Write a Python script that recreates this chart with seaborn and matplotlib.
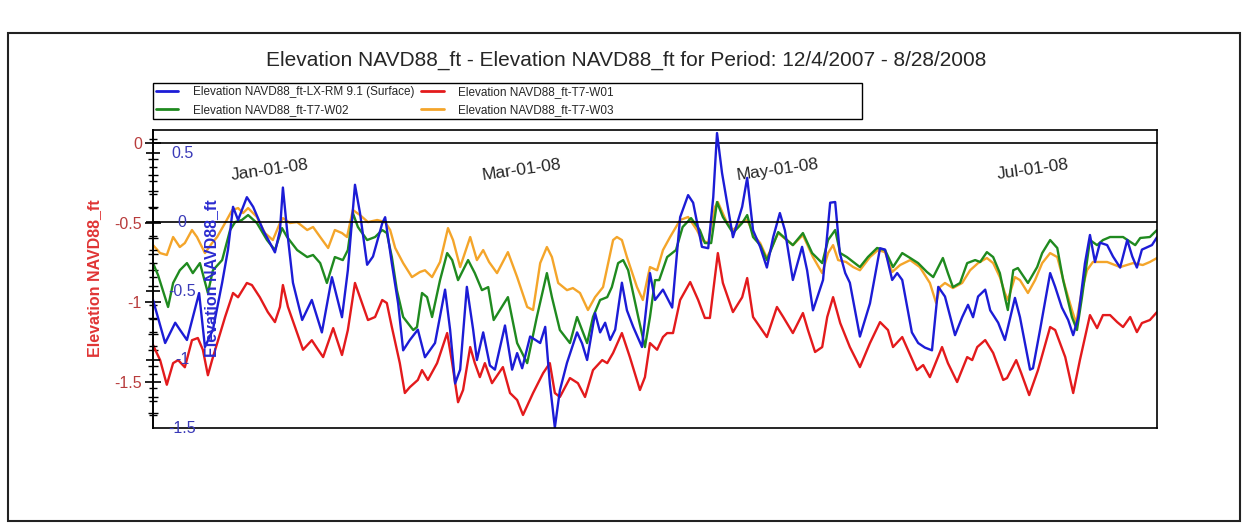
import pandas as pd
import matplotlib
matplotlib.use("Agg")
import matplotlib.pyplot as plt
import matplotlib.dates as mdates
import matplotlib.transforms as mtransforms
from matplotlib.lines import Line2D
from matplotlib.patches import Rectangle
from matplotlib.ticker import MultipleLocator, FuncFormatter
import seaborn as sns

# ─────────────────────────────────────────
# DATA  (day offset from 12/4/2007, elevation ft)
# ─────────────────────────────────────────
START = pd.Timestamp("2007-12-04")
END_DAY = 239.6

# LX-RM 9.1 (Surface) -> blue scale
surface = [(0, -0.565), (2.9, -0.877), (5.3, -0.73), (6.4, -0.78), (8.1, -0.855), (11, -0.515),
           (12.4, -0.906), (14.3, -0.78), (16.5, -0.44), (17.9, -0.20), (19.1, 0.11), (20.3, 0.015),
           (22.4, 0.18), (23.9, 0.11), (26.3, -0.06), (29.1, -0.22), (30.3, -0.06), (31, 0.25),
           (32, -0.06), (33.4, -0.44), (35.6, -0.71), (37.9, -0.565), (40.3, -0.80), (42.7, -0.40),
           (45.1, -0.69), (46.5, -0.35), (48.2, 0.27), (49.4, 0.065), (51.1, -0.31), (52.5, -0.25),
           (54.7, -0.01), (55.4, 0.035), (57, -0.30), (58.5, -0.59), (59.7, -0.93), (61.3, -0.855),
           (63.2, -0.78), (64.9, -0.98), (67.3, -0.877), (69.7, -0.49), (70.9, -0.78), (72.1, -1.17),
           (73.3, -1.07), (74.9, -0.47), (76.4, -0.78), (77.3, -1.0), (78.8, -0.80), (80.4, -1.04),
           (81.6, -1.07), (84, -0.75), (85.7, -1.07), (86.9, -0.95), (88.1, -1.06), (90, -0.83),
           (92.4, -0.877), (93.6, -0.76), (94.7, -1.17), (95.9, -1.49), (97.1, -1.22), (98.8, -1.02),
           (101.2, -0.80), (102.4, -0.88), (103.6, -1.0), (105.5, -0.66), (106.7, -0.80), (107.9, -0.73),
           (109.1, -0.855), (110.3, -0.78), (111.9, -0.44), (113.1, -0.64), (114.6, -0.76), (116.7, -0.906),
           (118.6, -0.37), (119.8, -0.565), (121.7, -0.49), (123.9, -0.62), (125.8, 0.035), (127.7, 0.195),
           (128.9, 0.14), (131, -0.18), (132.5, -0.19), (133.7, 0.18), (134.6, 0.645), (135.8, 0.355),
           (138.4, -0.11), (140.6, 0.11), (141.8, 0.32), (143.2, -0.06), (144.9, -0.18), (146.5, -0.33),
           (148, -0.11), (149.6, 0.065), (150.8, -0.06), (152.7, -0.42), (154.9, -0.18), (156.1, -0.35),
           (157.5, -0.64), (159.9, -0.42), (161.6, 0.14), (162.8, 0.145), (163.9, -0.225), (165.2, -0.37),
           (166.3, -0.44), (168.7, -0.83), (171.1, -0.59), (173.5, -0.19), (174.7, -0.20), (176.4, -0.42),
           (177.6, -0.37), (178.8, -0.42), (181.1, -0.80), (182.6, -0.877), (184.2, -0.91), (185.9, -0.93),
           (187.4, -0.47), (189, -0.54), (191.4, -0.82), (193.1, -0.69), (194.5, -0.60), (195.7, -0.69),
           (196.9, -0.54), (198.6, -0.49), (199.8, -0.64), (201.7, -0.73), (203.3, -0.855), (205.7, -0.55),
           (206.9, -0.69), (209.3, -1.07), (210, -1.06), (211.7, -0.78), (214.1, -0.37), (215.3, -0.47),
           (216.9, -0.62), (218.4, -0.71), (219.6, -0.82), (220.8, -0.69), (222.4, -0.30), (223.6, -0.094),
           (224.8, -0.29), (226, -0.15), (227.7, -0.167), (229.1, -0.25), (230.8, -0.33), (232.5, -0.13),
           (233.7, -0.25), (234.8, -0.33), (236, -0.20), (238.4, -0.167), (239.6, -0.11)]

# T7-W01 -> red scale
w01 = [(0, -1.27), (1.7, -1.365), (3.3, -1.52), (4.8, -1.384), (6, -1.365), (7.6, -1.41), (9.3, -1.24),
       (10.7, -1.226), (11.9, -1.30), (13.1, -1.46), (14.1, -1.365), (15.3, -1.26), (17.2, -1.094),
       (19.1, -0.943), (20.3, -0.97), (22.4, -0.88), (23.6, -0.893), (25.5, -0.97), (27.4, -1.063),
       (29.1, -1.126), (30.3, -1.03), (31, -0.893), (32.2, -1.03), (34.4, -1.195), (35.8, -1.30),
       (37.9, -1.24), (39.4, -1.30), (40.6, -1.346), (43, -1.164), (45.1, -1.333), (46.5, -1.176),
       (48.2, -0.88), (49.4, -0.97), (51.3, -1.113), (53, -1.094), (54.7, -0.987), (55.8, -1.006),
       (57, -1.157), (58.9, -1.384), (60.1, -1.572), (61.3, -1.535), (63.2, -1.49), (64.2, -1.428),
       (65.6, -1.49), (67.8, -1.384), (70.2, -1.195), (71.4, -1.384), (72.8, -1.63), (74, -1.553),
       (75.7, -1.283), (76.8, -1.384), (78, -1.472), (79.2, -1.384), (80.9, -1.51), (83.5, -1.409),
       (85.2, -1.572), (86.9, -1.616), (88.3, -1.71), (90.7, -1.572), (93.1, -1.447), (94.7, -1.384),
       (95.9, -1.572), (97.1, -1.597), (99.5, -1.478), (101.4, -1.51), (103.1, -1.597), (105, -1.428),
       (107.2, -1.365), (108.4, -1.384), (109.8, -1.32), (111.9, -1.195), (113.8, -1.346), (116.2, -1.553),
       (117.4, -1.472), (118.6, -1.258), (120.3, -1.30), (121.7, -1.22), (122.7, -1.195), (124.1, -1.195),
       (125.8, -0.987), (128.2, -0.874), (130.1, -0.987), (131.7, -1.10), (132.9, -1.10), (134.8, -0.692),
       (136, -0.88), (138.4, -1.063), (140.6, -0.97), (141.8, -0.849), (143.2, -1.094), (146.5, -1.22),
       (148.9, -1.031), (150.4, -1.094), (152.7, -1.195), (155.1, -1.069), (156.3, -1.176), (158, -1.314),
       (159.7, -1.283), (160.9, -1.094), (162.3, -0.969), (164, -1.132), (166.3, -1.283), (168.7, -1.409),
       (171.1, -1.258), (173.5, -1.126), (175.4, -1.176), (176.6, -1.283), (178.8, -1.22), (182.3, -1.428),
       (183.8, -1.396), (185.4, -1.472), (188.3, -1.283), (189.7, -1.384), (191.9, -1.503), (194.3, -1.346),
       (195.5, -1.365), (196.7, -1.283), (198.6, -1.239), (200.5, -1.32), (202.9, -1.49), (203.8, -1.478),
       (206, -1.365), (207.2, -1.447), (209.1, -1.585), (211.2, -1.428), (214.1, -1.157), (215.3, -1.176),
       (217.7, -1.346), (219.6, -1.572), (221.2, -1.365), (223.6, -1.082), (225.3, -1.164), (226.7, -1.082),
       (228.4, -1.082), (230.1, -1.126), (231.5, -1.157), (233.2, -1.094), (234.8, -1.189), (236, -1.132),
       (237.9, -1.113), (239.6, -1.063)]

# T7-W02 -> red scale
w02 = [(0, -0.755), (1.2, -0.83), (3.6, -1.031), (4.8, -0.88), (6.4, -0.80), (8.1, -0.755), (9.5, -0.818),
       (11.2, -0.755), (13.1, -0.943), (14.3, -0.80), (16.5, -0.736), (18.4, -0.547), (19.6, -0.497),
       (21.2, -0.484), (22.7, -0.453), (24.8, -0.503), (27.2, -0.61), (29.1, -0.673), (30.8, -0.535),
       (32, -0.591), (34.4, -0.673), (36.8, -0.717), (38.2, -0.704), (39.9, -0.755), (41.5, -0.88),
       (43.4, -0.717), (45.3, -0.736), (46.5, -0.673), (47.7, -0.44), (48.9, -0.528), (51.1, -0.61),
       (53, -0.591), (54.7, -0.547), (55.8, -0.566), (57, -0.717), (58.2, -0.925), (59.7, -1.094),
       (62.1, -1.176), (63, -1.157), (64.2, -0.943), (65.4, -0.969), (66.6, -1.094), (68.5, -0.862),
       (70.2, -0.692), (71.4, -0.736), (72.8, -0.862), (75.2, -0.736), (76.8, -0.818), (78.5, -0.925),
       (80, -0.906), (81.3, -1.113), (84.7, -0.969), (86.9, -1.258), (89.3, -1.384), (91.6, -1.094),
       (94, -0.818), (95.2, -0.969), (97.1, -1.176), (99.5, -1.258), (101.2, -1.094), (102.4, -1.176),
       (103.6, -1.258), (105, -1.094), (106.7, -0.987), (108.4, -0.969), (109.5, -0.906), (111, -0.755),
       (112.2, -0.736), (113.4, -0.80), (115.8, -1.094), (117.4, -1.283), (118.6, -1.094), (119.8, -0.862),
       (120.8, -0.862), (122.7, -0.717), (124.8, -0.673), (126.4, -0.528), (128.4, -0.472), (130.5, -0.547),
       (131.7, -0.629), (133.2, -0.629), (134.6, -0.371), (136, -0.465), (138.4, -0.566), (140.6, -0.503),
       (141.8, -0.453), (143.2, -0.591), (144.9, -0.642), (146.5, -0.736), (149.2, -0.56), (151.3, -0.61),
       (152.7, -0.642), (155.1, -0.566), (157.3, -0.692), (159.7, -0.755), (161.1, -0.61), (162.8, -0.547),
       (164, -0.692), (165.6, -0.717), (168.7, -0.78), (170.6, -0.717), (172.8, -0.66), (174.7, -0.673),
       (176.6, -0.78), (178.8, -0.692), (180.7, -0.723), (182.6, -0.755), (184.7, -0.811), (186.2, -0.843),
       (188.5, -0.723), (189.7, -0.818), (190.9, -0.906), (192.6, -0.88), (194.3, -0.755), (196.2, -0.736),
       (197.4, -0.748), (199, -0.686), (200.5, -0.717), (202.1, -0.818), (203.3, -0.969), (204, -1.05),
       (205.3, -0.80), (206.4, -0.786), (208.8, -0.88), (211, -0.78), (212.2, -0.692), (214.1, -0.61),
       (215.8, -0.66), (217.2, -0.862), (219.3, -1.094), (220.5, -1.176), (221.7, -0.969), (223.6, -0.61),
       (225.3, -0.642), (226.7, -0.61), (228.4, -0.591), (231.5, -0.591), (234.4, -0.642), (235.6, -0.597),
       (237.9, -0.591), (239.6, -0.547)]

# T7-W03 -> red scale
w03 = [(0, -0.642), (1.7, -0.692), (3.3, -0.704), (4.8, -0.591), (6.4, -0.654), (7.6, -0.629), (9.3, -0.547),
       (10.5, -0.591), (12.4, -0.692), (14.1, -0.629), (15.3, -0.591), (17.2, -0.503), (18.9, -0.421),
       (20.3, -0.409), (21.5, -0.44), (22.7, -0.409), (24.8, -0.465), (26.7, -0.566), (28.6, -0.61),
       (30.3, -0.503), (31, -0.472), (32.7, -0.503), (34.4, -0.497), (36.8, -0.547), (38.2, -0.528),
       (39.9, -0.591), (41.8, -0.66), (43.4, -0.547), (45.1, -0.566), (46.3, -0.591), (47.7, -0.421),
       (49.4, -0.453), (51.3, -0.497), (53.5, -0.484), (55.4, -0.497), (56.6, -0.547), (57.8, -0.66),
       (59.7, -0.755), (61.8, -0.843), (63.7, -0.811), (64.9, -0.80), (66.6, -0.843), (68.5, -0.748),
       (70.4, -0.535), (71.6, -0.61), (73.3, -0.78), (75.7, -0.591), (77.3, -0.736), (78.8, -0.673),
       (80.2, -0.748), (82.1, -0.818), (84.7, -0.686), (86.9, -0.843), (89.3, -1.031), (90.7, -1.05),
       (92.4, -0.755), (94, -0.654), (95.2, -0.717), (96.7, -0.88), (98.8, -0.925), (100.2, -0.912),
       (101.9, -0.943), (103.8, -1.05), (105.5, -0.969), (107.4, -0.906), (109.8, -0.61), (110.7, -0.591),
       (111.9, -0.61), (113.1, -0.717), (115.5, -0.906), (116.9, -0.987), (118.6, -0.78), (120.3, -0.80),
       (121.7, -0.673), (123.4, -0.591), (125.8, -0.484), (127.7, -0.465), (129.8, -0.547), (131, -0.61),
       (132.5, -0.629), (134.1, -0.403), (134.8, -0.371), (137, -0.503), (138.4, -0.547), (140.6, -0.497),
       (141.8, -0.484), (143.7, -0.591), (144.9, -0.629), (146.5, -0.723), (149.2, -0.566), (152.7, -0.642),
       (155.1, -0.579), (157.5, -0.717), (159.7, -0.818), (161.1, -0.692), (162.3, -0.642), (163.5, -0.736),
       (165.4, -0.748), (167.1, -0.78), (168.7, -0.80), (171.1, -0.717), (173, -0.673), (174.7, -0.686),
       (176.4, -0.811), (178.3, -0.767), (180.7, -0.736), (183, -0.78), (185.4, -0.88), (186.9, -1.006),
       (187.8, -0.906), (189, -0.88), (190.9, -0.912), (193.1, -0.88), (195, -0.80), (196.9, -0.755),
       (199, -0.723), (200.5, -0.755), (202.1, -0.843), (203.3, -0.943), (204, -0.987), (205.7, -0.843),
       (206.9, -0.862), (208.8, -0.943), (210.5, -0.862), (212.2, -0.755), (214.1, -0.692), (215.8, -0.717),
       (217.7, -0.906), (219.3, -1.05), (220.3, -1.132), (221.7, -0.925), (222.9, -0.80), (224.3, -0.748),
       (227.7, -0.748), (230.8, -0.78), (233.9, -0.755), (236.2, -0.767), (237.9, -0.748), (239.6, -0.723)]

labels = ["Elevation NAVD88_ft-LX-RM 9.1 (Surface)", "Elevation NAVD88_ft-T7-W01",
          "Elevation NAVD88_ft-T7-W02", "Elevation NAVD88_ft-T7-W03"]
colors = ["#1c1cd6", "#e31a1c", "#1f8a1f", "#f4a52a"]
red_ticks = [0, -0.5, -1, -1.5]
blue_ticks = [0.5, 0, -0.5, -1, -1.5]
title = "Elevation NAVD88_ft - Elevation NAVD88_ft for Period: 12/4/2007 - 8/28/2008"


def to_frame(pairs):
    days, vals = zip(*pairs)
    return pd.DataFrame({"date": START + pd.to_timedelta(list(days), unit="D"), "value": list(vals)})


# ─────────────────────────────────────────
# FIGURE
# ─────────────────────────────────────────
sns.set_style("white")
plt.rcParams["font.family"] = ["Liberation Sans", "DejaVu Sans"]

W, H = 1249, 527
fig = plt.figure(figsize=(W / 100, H / 100), dpi=100)


def fx(px):
    return px / W


def fy(py):
    return 1 - py / H


ax = fig.add_axes([fx(153), fy(428), fx(1157) - fx(153), fy(130) - fy(428)])
ax2 = ax.twinx()

# wells on the red scale, surface on the blue scale
for pairs, col in [(w01, colors[1]), (w03, colors[3]), (w02, colors[2])]:
    sns.lineplot(data=to_frame(pairs), x="date", y="value", ax=ax, color=col, linewidth=1.7)
sns.lineplot(data=to_frame(surface), x="date", y="value", ax=ax2, color=colors[0], linewidth=1.7)

ax.set_xlim(START, START + pd.Timedelta(days=END_DAY))
ax.set_ylim(-1.792, 0.082)
ax2.set_ylim(-1.493, 0.667)
for a in (ax, ax2):
    a.set_xlabel("")
    a.set_ylabel("")

# date axis runs along the red zero line
ax.spines["bottom"].set_position(("data", 0))
ax.spines["top"].set_visible(False)
ax.spines["right"].set_visible(False)
for a in (ax, ax2):
    for sp in a.spines.values():
        sp.set_color("black")
        sp.set_linewidth(1.2)

ax.xaxis.set_major_locator(mdates.MonthLocator(bymonth=[1, 3, 5, 7]))
ax.xaxis.set_minor_locator(mdates.MonthLocator(bymonthday=[1, 16]))
ax.xaxis.set_major_formatter(mdates.DateFormatter("%b-%d-%y"))
ax.tick_params(axis="x", which="both", direction="inout", length=6, width=1, color="black",
               labelsize=12.5, pad=7)
for lab in ax.get_xticklabels():
    lab.set_rotation(8)
    lab.set_ha("center")

# red (left) scale
ax.yaxis.set_minor_locator(MultipleLocator(0.1))
ax.yaxis.set_major_formatter(FuncFormatter(lambda v, p: f"{v:g}"))
ax.set_yticks(red_ticks)
ax.tick_params(axis="y", which="major", direction="inout", length=12, width=1.2, color="black",
               labelsize=11.5, labelcolor="#b83c3c", pad=2)
ax.tick_params(axis="y", which="minor", direction="inout", length=7, width=1, color="black")

# blue scale shares the left spine, labels sit inside the plot
ax2.yaxis.set_ticks_position("left")
ax2.yaxis.set_major_locator(MultipleLocator(0.5))
ax2.yaxis.set_minor_locator(MultipleLocator(0.1))
ax2.tick_params(axis="y", which="major", direction="inout", length=10, width=1.2, color="black",
                labelleft=False, labelright=False)
ax2.tick_params(axis="y", which="minor", direction="inout", length=6, width=1, color="black")
ax2.axhline(0, color="black", linewidth=1.2)
blend = mtransforms.blended_transform_factory(ax2.transAxes, ax2.transData)
for v in blue_ticks:
    ax2.text(0.029, v, f"{v:g}", transform=blend, ha="center", va="center",
             fontsize=11.5, color="#3a3ab8")

# axis titles
fig.text(fx(95), fy(278), "Elevation NAVD88_ft", rotation=90, ha="center", va="center",
         fontsize=11.5, fontweight="bold", color="#e03535")
fig.text(fx(212), fy(278), "Elevation NAVD88_ft", rotation=90, ha="center", va="center",
         fontsize=11.5, fontweight="bold", color="#2b2bd0", zorder=5)

# title
fig.text(fx(626), fy(60), title, ha="center", va="center", fontsize=15)

# legend: blue/green left column, red/orange right column
order = [0, 2, 1, 3]
handles = [Line2D([], [], color=colors[i], linewidth=2) for i in order]
fig.legend(handles, [labels[i] for i in order], loc="upper left",
           bbox_to_anchor=(fx(156), fy(86)), ncol=2, frameon=False, fontsize=8.5,
           handlelength=1.9, handletextpad=1.2, columnspacing=0.6, labelspacing=0.5,
           borderpad=0, borderaxespad=0)
fig.add_artist(Rectangle((fx(153), fy(119)), fx(862) - fx(153), fy(83) - fy(119),
                         transform=fig.transFigure, fill=False, edgecolor="black", linewidth=1))

# outer frame
fig.add_artist(Rectangle((fx(8), fy(521)), fx(1240) - fx(8), fy(33) - fy(521),
                         transform=fig.transFigure, fill=False, edgecolor="#222222", linewidth=1.5))

fig.savefig("out.png", dpi=100)
